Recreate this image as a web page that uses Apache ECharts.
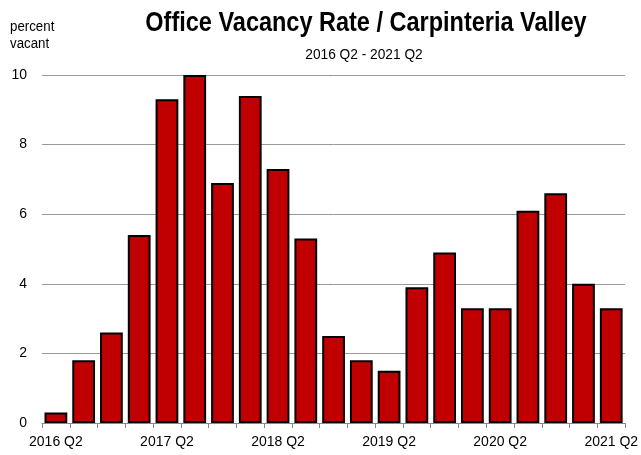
<!DOCTYPE html>
<html>
<head>
<meta charset="utf-8">
<script src="https://cdn.jsdelivr.net/npm/echarts@6/dist/echarts.min.js"></script>
<style>html,body{margin:0;padding:0;background:#fff;}#c{width:641px;height:455px;}</style>
</head>
<body>
<div id="c"></div>
<script>
const categories = ["2016 Q2","2016 Q3","2016 Q4","2017 Q1","2017 Q2","2017 Q3","2017 Q4","2018 Q1","2018 Q2","2018 Q3","2018 Q4","2019 Q1","2019 Q2","2019 Q3","2019 Q4","2020 Q1","2020 Q2","2020 Q3","2020 Q4","2021 Q1","2021 Q2"];
const vacancy = [0.3,1.8,2.6,5.4,9.3,10.0,6.9,9.4,7.3,5.3,2.5,1.8,1.5,3.9,4.9,3.3,3.3,6.1,6.6,4.0,3.3];
const yTicks = [0,2,4,6,8,10];
const titleText = "Office Vacancy Rate / Carpinteria Valley";
const subtitleText = "2016 Q2 - 2021 Q2";
const yAxisTitle = "percent\nvacant";

const FONT = "'Liberation Sans', Arial, sans-serif";
const chart = echarts.init(document.getElementById('c'), null, {renderer:'canvas'});
chart.setOption({
  animation: false,
  backgroundColor: '#fff',
  graphic: [{
    type: 'text',
    x: 366, y: 10, scaleX: 0.87,
    style: {text: titleText, fontFamily: FONT, fontWeight: 'bold', fontSize: 27, fill: '#000', align: 'center', verticalAlign: 'top'}
  },{
    type: 'text',
    x: 364, y: 48, scaleX: 0.98,
    style: {text: subtitleText, fontFamily: FONT, fontSize: 14, fill: '#000', align: 'center', verticalAlign: 'top'}
  },{
    type: 'text',
    x: 10, y: 19, scaleX: 0.95,
    style: {text: yAxisTitle, fontFamily: FONT, fontSize: 14, lineHeight: 17, fill: '#000', align: 'left', verticalAlign: 'top'}
  }],
  grid: {left: 42, right: 12, top: 75, bottom: 32, containLabel: false},
  xAxis: {
    type: 'category',
    data: categories,
    boundaryGap: true,
    axisLine: {show: true, lineStyle: {color: '#888', width: 1}},
    axisTick: {show: true, length: 5, interval: 0, alignWithLabel: false, lineStyle: {color: '#888'}},
    axisLabel: {
      interval: 3, fontFamily: FONT, fontSize: 14, color: '#000', margin: 12
    }
  },
  yAxis: {
    type: 'value',
    min: 0, max: 10, interval: 2,
    axisLine: {show: false},
    axisTick: {show: false},
    splitLine: {show: true, lineStyle: {color: '#999', width: 1}},
    axisLabel: {
      fontFamily: FONT, fontSize: 14, color: '#000', margin: 15,
      formatter: function(v){ return yTicks.indexOf(v) >= 0 ? String(v) : ''; }
    }
  },
  series: [{
    type: 'bar',
    data: vacancy,
    barCategoryGap: '18%',
    itemStyle: {color: '#C00000', borderColor: '#000', borderWidth: 2}
  }]
});
</script>
</body>
</html>
